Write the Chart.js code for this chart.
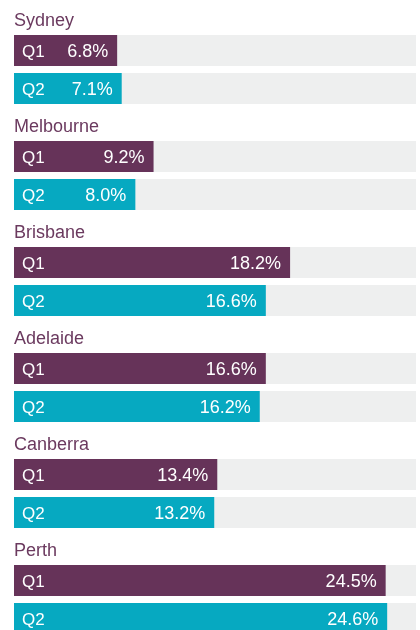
<!DOCTYPE html>
<html>
<head>
<meta charset="utf-8">
<script src="https://cdn.jsdelivr.net/npm/chart.js@4.4.0/dist/chart.umd.min.js"></script>
<style>
  html, body { margin: 0; padding: 0; background: #fff; overflow: hidden; }
  #wrap { width: 420px; height: 660px; }
</style>
</head>
<body>
<div id="wrap"><canvas id="chart" width="420" height="660"></canvas></div>
<script>
const cities = ['Sydney', 'Melbourne', 'Brisbane', 'Adelaide', 'Canberra', 'Perth'];
const q1Values = [6.8, 9.2, 18.2, 16.6, 13.4, 24.5];
const q2Values = [7.1, 8.0, 16.6, 16.2, 13.2, 24.6];
const seriesNames = ['Q1', 'Q2'];
const axisMax = 26.5;

const FONT = '"Liberation Sans", Arial, Helvetica, sans-serif';

// grey track behind every bar, full width of the chart area
const trackPlugin = {
    id: 'tracks',
    beforeDatasetsDraw(chart) {
        const ctx = chart.ctx;
        const area = chart.chartArea;
        ctx.save();
        ctx.fillStyle = '#eeefef';
        chart.data.datasets.forEach((ds, i) => {
            chart.getDatasetMeta(i).data.forEach(bar => {
                const h = bar.height;
                ctx.fillRect(area.left, bar.y - h / 2, area.right - area.left, h);
            });
        });
        ctx.restore();
    }
};

// series name at the left, value at the end of each bar, city name above each group
const labelPlugin = {
    id: 'labels',
    afterDatasetsDraw(chart) {
        const ctx = chart.ctx;
        const area = chart.chartArea;
        ctx.save();
        ctx.textBaseline = 'middle';
        chart.data.datasets.forEach((ds, i) => {
            chart.getDatasetMeta(i).data.forEach((bar, j) => {
                ctx.fillStyle = '#ffffff';
                ctx.font = '17px ' + FONT;
                ctx.textAlign = 'left';
                ctx.fillText(ds.label, area.left + 8, bar.y + 1.5);
                ctx.font = '18px ' + FONT;
                ctx.textAlign = 'right';
                ctx.fillText(ds.data[j].toFixed(1) + '%', bar.x - 9, bar.y + 1.5);
            });
        });
        const first = chart.getDatasetMeta(0).data;
        ctx.fillStyle = '#6b3a5f';
        ctx.font = '18px ' + FONT;
        ctx.textAlign = 'left';
        first.forEach((bar, j) => {
            const top = bar.y - bar.height / 2;
            ctx.fillText(chart.data.labels[j], area.left, top - 14);
        });
        ctx.restore();
    }
};

new Chart(document.getElementById('chart').getContext('2d'), {
    type: 'bar',
    data: {
        labels: cities,
        datasets: [
            { label: seriesNames[0], data: q1Values, backgroundColor: '#663359' },
            { label: seriesNames[1], data: q2Values, backgroundColor: '#06a9c1' }
        ]
    },
    options: {
        indexAxis: 'y',
        responsive: false,
        animation: false,
        categoryPercentage: 0.717,
        barPercentage: 0.816,
        layout: { padding: { top: 16.5, left: 14, right: 4, bottom: 7.5 } },
        scales: {
            x: { min: 0, max: axisMax, display: false },
            y: { display: false }
        },
        plugins: {
            legend: { display: false },
            tooltip: { enabled: false }
        }
    },
    plugins: [trackPlugin, labelPlugin]
});
</script>
</body>
</html>
